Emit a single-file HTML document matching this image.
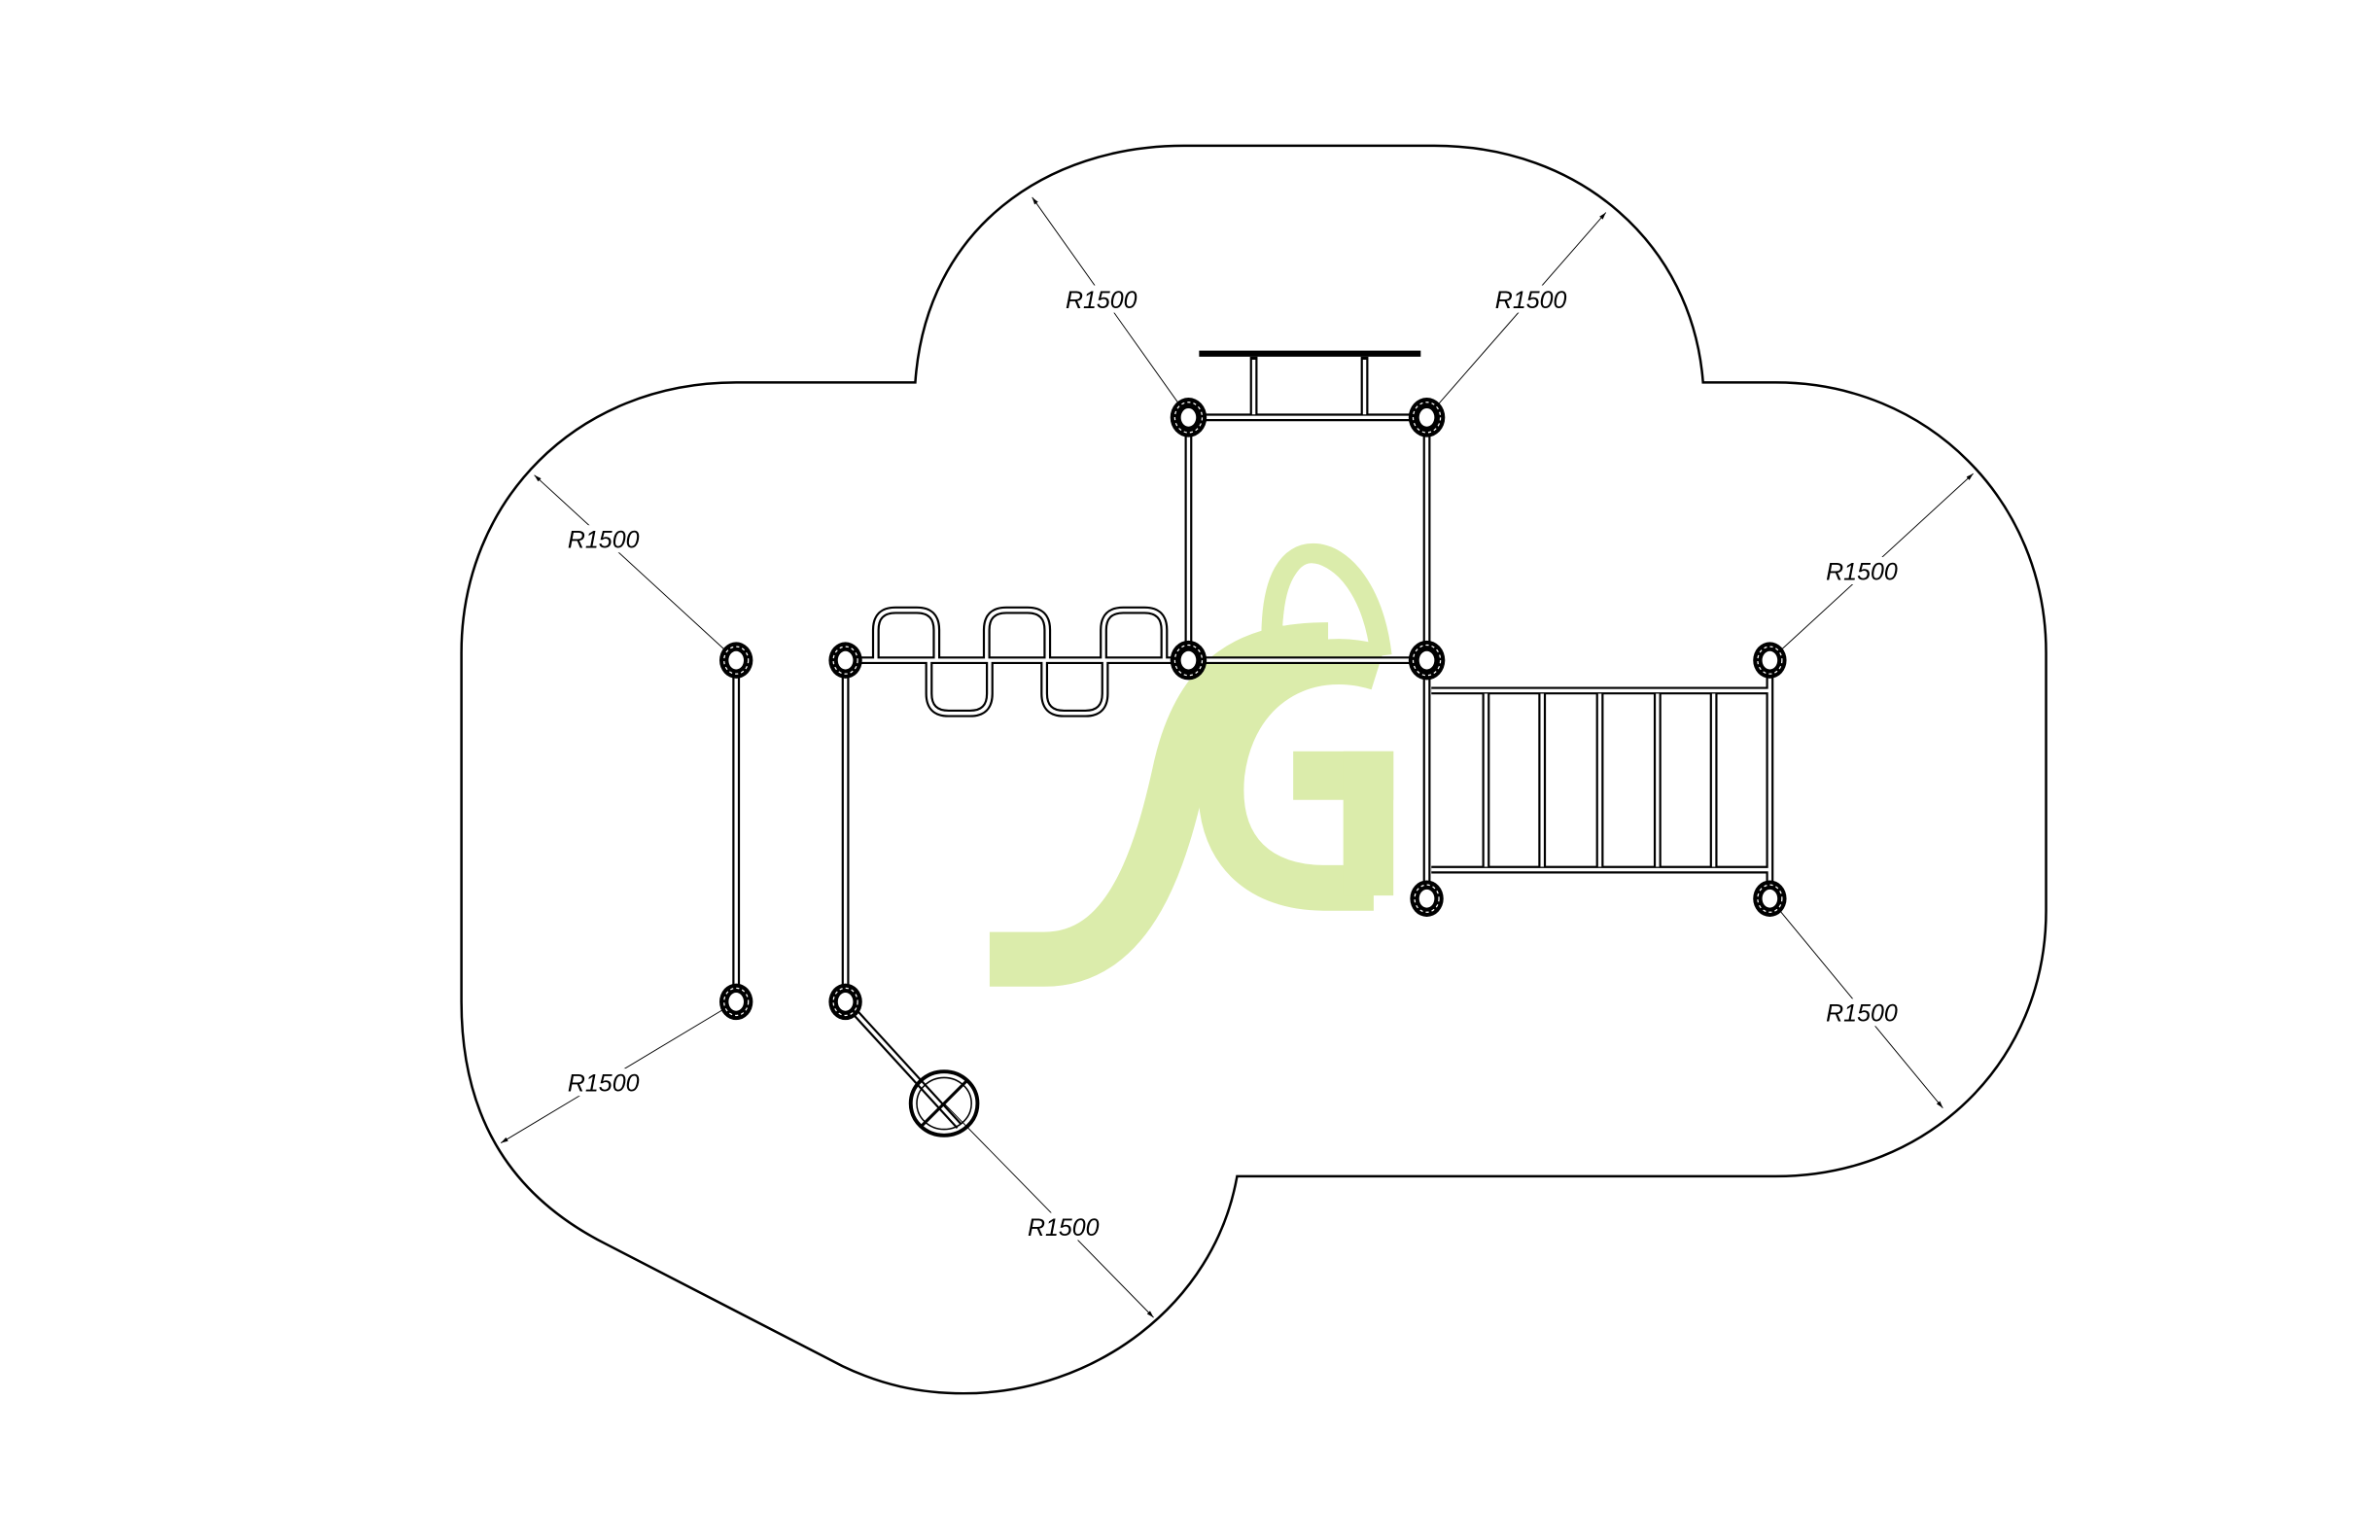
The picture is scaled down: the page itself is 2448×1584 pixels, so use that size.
<!DOCTYPE html>
<html><head><meta charset="utf-8"><style>
html,body{margin:0;padding:0;background:#fff;}
svg{display:block;}
text{font-family:"Liberation Sans",sans-serif;font-style:italic;font-size:16px;fill:#000;}
</style></head><body>
<svg width="2448" height="1584" viewBox="0 0 1568 1014.6" preserveAspectRatio="none" xmlns="http://www.w3.org/2000/svg">
<defs>
<marker id="ar" viewBox="0 0 10 10" refX="10" refY="5" markerWidth="8" markerHeight="8" orient="auto-start-reverse"><path d="M0,2 L10,5 L0,8 z" fill="#000"/></marker>
</defs>
<!-- logo -->
<g fill="none" stroke="#dbecab">
<path d="M652,632 L688,632 C745,632 765,565 778,505 C792,445 825,428 875,428" stroke-width="36"/>
<path d="M908,440 C860,425 812,452 805,510 C800,562 832,585 872,585 L905,585" stroke-width="30"/>
<path d="M838,420 C838,380 850,365 865,365 C885,365 905,390 910,432" stroke-width="14"/>
</g>
<rect x="852" y="495" width="66" height="32" fill="#dbecab"/>
<rect x="885" y="495" width="33" height="95" fill="#dbecab"/>
<g fill="none" stroke="#fff" stroke-width="2">
<path d="M846,412 C848,385 856,372 864,372 C876,372 893,390 897,412"/>
</g>
<!-- outline -->
<path d="M603,252 C610,150 690,96 780,96 L945,96 C1040,96 1115,160 1122,252 L1170,252 C1270,252 1348,330 1348,430 L1348,600 C1348,700 1270,775 1170,775 L815,775 C800,860 720,918 635,918 C605,918 580,912 555,900 L400,820 C340,790 304,740 304,660 L304,430 C304,330 380,252 485,252 L603,252 Z" fill="none" stroke="#000" stroke-width="1.6"/>
<!-- dimension lines -->
<g stroke="#000" stroke-width="0.6" fill="none" marker-end="url(#ar)">
<path d="M783,275 L680,130"/>
<path d="M940,275 L1058,140"/>
<path d="M485,435 L352,313"/>
<path d="M1166,435 L1300,312"/>
<path d="M485,660 L330,753"/>
<path d="M1166,592 L1280,730"/>
<path d="M622,727 L760,868"/>
</g>
<g fill="#fff">
<rect x="702" y="188" width="50" height="18"/>
<rect x="985" y="188" width="50" height="18"/>
<rect x="374" y="346" width="50" height="18"/>
<rect x="1203" y="367" width="50" height="18"/>
<rect x="374" y="704" width="50" height="18"/>
<rect x="1203" y="658" width="50" height="18"/>
<rect x="677" y="799" width="50" height="18"/>
</g>
<text x="702" y="203">R1500</text>
<text x="985" y="203">R1500</text>
<text x="374" y="361">R1500</text>
<text x="1203" y="382">R1500</text>
<text x="374" y="719">R1500</text>
<text x="1203" y="673">R1500</text>
<text x="677" y="814">R1500</text>
<!-- pipes -->
<g fill="none" stroke="#000" stroke-width="5">
<path d="M783,275 L940,275 M826,235 L826,275 M899,235 L899,275"/>
<path d="M783,275 L783,435 M940,275 L940,592 M1166,435 L1166,592"/>
<path d="M557,435 L940,435"/>
<path d="M485,435 L485,660 M557,435 L557,660"/>
<path d="M557,660 L632,742"/>
<path d="M943,455 L1166,455 M943,573 L1166,573"/>
<path d="M979,455 L979,573 M1016,455 L1016,573 M1054,455 L1054,573 M1092,455 L1092,573 M1129,455 L1129,573"/>
<path d="M577,435 L577,415 Q577,402 590,402 L604,402 Q617,402 617,415 L617,435"/>
<path d="M650,435 L650,415 Q650,402 663,402 L677,402 Q690,402 690,415 L690,435"/>
<path d="M727,435 L727,415 Q727,402 740,402 L754,402 Q767,402 767,415 L767,435"/>
<path d="M612,435 L612,457 Q612,470 625,470 L639,470 Q652,470 652,457 L652,435"/>
<path d="M688,435 L688,457 Q688,470 701,470 L715,470 Q728,470 728,457 L728,435"/>
</g>
<g fill="none" stroke="#fff" stroke-width="2.2">
<path d="M783,275 L940,275 M826,237 L826,273 M899,237 L899,273"/>
<path d="M783,275 L783,435 M940,275 L940,592 M1166,435 L1166,592"/>
<path d="M557,435 L940,435"/>
<path d="M485,435 L485,660 M557,435 L557,660"/>
<path d="M557,660 L632,742"/>
<path d="M943,455 L1166,455 M943,573 L1166,573"/>
<path d="M979,457 L979,571 M1016,457 L1016,571 M1054,457 L1054,571 M1092,457 L1092,571 M1129,457 L1129,571"/>
<path d="M577,435 L577,415 Q577,402 590,402 L604,402 Q617,402 617,415 L617,435"/>
<path d="M650,435 L650,415 Q650,402 663,402 L677,402 Q690,402 690,415 L690,435"/>
<path d="M727,435 L727,415 Q727,402 740,402 L754,402 Q767,402 767,415 L767,435"/>
<path d="M612,435 L612,457 Q612,470 625,470 L639,470 Q652,470 652,457 L652,435"/>
<path d="M688,435 L688,457 Q688,470 701,470 L715,470 Q728,470 728,457 L728,435"/>
</g>
<path d="M790,233 L936,233" stroke="#000" stroke-width="4"/>
<!-- wheel -->
<ellipse cx="622" cy="727" rx="22" ry="21" fill="none" stroke="#000" stroke-width="2.5"/>
<ellipse cx="622" cy="727" rx="18" ry="17" fill="none" stroke="#000" stroke-width="1"/>
<path d="M607,742 L637,712" stroke="#000" stroke-width="2"/>
<!-- posts -->
<g fill="#000">
<ellipse cx="783" cy="275" rx="12" ry="13"/><ellipse cx="940" cy="275" rx="12" ry="13"/>
<ellipse cx="783" cy="435" rx="12" ry="13"/><ellipse cx="940" cy="435" rx="12" ry="13"/>
<ellipse cx="485" cy="435" rx="11" ry="12"/><ellipse cx="557" cy="435" rx="11" ry="12"/>
<ellipse cx="485" cy="660" rx="11" ry="12"/><ellipse cx="557" cy="660" rx="11" ry="12"/>
<ellipse cx="1166" cy="435" rx="11" ry="12"/><ellipse cx="940" cy="592" rx="11" ry="12"/>
<ellipse cx="1166" cy="592" rx="11" ry="12"/>
</g>
<g fill="none" stroke="#fff" stroke-width="0.8" stroke-dasharray="2 2">
<ellipse cx="783" cy="275" rx="9" ry="10"/><ellipse cx="940" cy="275" rx="9" ry="10"/>
<ellipse cx="783" cy="435" rx="9" ry="10"/><ellipse cx="940" cy="435" rx="9" ry="10"/>
<ellipse cx="485" cy="435" rx="8" ry="9"/><ellipse cx="557" cy="435" rx="8" ry="9"/>
<ellipse cx="485" cy="660" rx="8" ry="9"/><ellipse cx="557" cy="660" rx="8" ry="9"/>
<ellipse cx="1166" cy="435" rx="8" ry="9"/><ellipse cx="940" cy="592" rx="8" ry="9"/>
<ellipse cx="1166" cy="592" rx="8" ry="9"/>
</g>
<g fill="#fff">
<ellipse cx="783" cy="275" rx="5" ry="6"/><ellipse cx="940" cy="275" rx="5" ry="6"/>
<ellipse cx="783" cy="435" rx="5" ry="6"/><ellipse cx="940" cy="435" rx="5" ry="6"/>
<ellipse cx="485" cy="435" rx="5" ry="6"/><ellipse cx="557" cy="435" rx="5" ry="6"/>
<ellipse cx="485" cy="660" rx="5" ry="6"/><ellipse cx="557" cy="660" rx="5" ry="6"/>
<ellipse cx="1166" cy="435" rx="5" ry="6"/><ellipse cx="940" cy="592" rx="5" ry="6"/>
<ellipse cx="1166" cy="592" rx="5" ry="6"/>
</g>
</svg>
</body></html>
